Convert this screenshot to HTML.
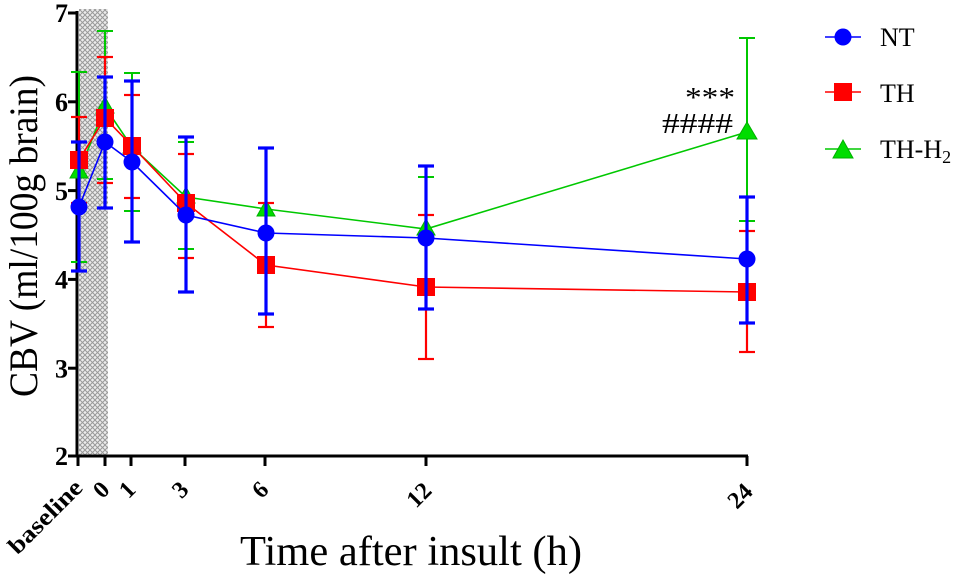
<!DOCTYPE html>
<html><head><meta charset="utf-8"><style>
html,body{margin:0;padding:0;background:#fff;}
svg{display:block;}
text{font-family:"Liberation Serif",serif;}
</style></head><body>
<svg width="968" height="577" viewBox="0 0 968 577" xmlns="http://www.w3.org/2000/svg">
<defs>
<pattern id="hatch" width="5" height="5" patternUnits="userSpaceOnUse">
<rect width="5" height="5" fill="#ececec"/>
<path d="M0,0 L5,5 M5,0 L0,5" stroke="#999" stroke-width="1"/>
</pattern>
</defs>
<!-- hatched region -->
<rect x="79" y="9" width="29" height="446" fill="url(#hatch)"/>

<!-- axes -->
<line x1="77" y1="11" x2="77" y2="457.5" stroke="#000" stroke-width="3"/>
<line x1="75.5" y1="456" x2="748" y2="456" stroke="#000" stroke-width="3"/>
<g stroke="#000" stroke-width="3">
<line x1="68" y1="13" x2="77" y2="13"/>
<line x1="68" y1="101.8" x2="77" y2="101.8"/>
<line x1="68" y1="190.6" x2="77" y2="190.6"/>
<line x1="68" y1="279.4" x2="77" y2="279.4"/>
<line x1="68" y1="368.2" x2="77" y2="368.2"/>
<line x1="68" y1="456" x2="77" y2="456"/>
<line x1="78" y1="456" x2="78" y2="466"/>
<line x1="105" y1="456" x2="105" y2="466"/>
<line x1="131" y1="456" x2="131" y2="466"/>
<line x1="185" y1="456" x2="185" y2="466"/>
<line x1="265" y1="456" x2="265" y2="466"/>
<line x1="426" y1="456" x2="426" y2="466"/>
<line x1="747" y1="456" x2="747" y2="466"/>
</g>
<g font-weight="bold" font-size="26" text-anchor="end" fill="#000">
<text x="68" y="22">7</text>
<text x="68" y="111">6</text>
<text x="68" y="200">5</text>
<text x="68" y="288.5">4</text>
<text x="68" y="377.5">3</text>
<text x="68" y="465">2</text>
</g>
<g font-weight="bold" font-size="24" text-anchor="end" fill="#000">
<text transform="translate(84,489) rotate(-45)" textLength="94" lengthAdjust="spacingAndGlyphs">baseline</text>
<text transform="translate(111,491) rotate(-45)">0</text>
<text transform="translate(137,491) rotate(-45)">1</text>
<text transform="translate(190,491) rotate(-45)">3</text>
<text transform="translate(270,491) rotate(-45)">6</text>
<text transform="translate(433,492) rotate(-45)">12</text>
<text transform="translate(754,493) rotate(-45)">24</text>
</g>
<text x="411" y="565" font-size="42" text-anchor="middle" textLength="342" lengthAdjust="spacingAndGlyphs">Time after insult (h)</text>
<text transform="translate(37,236) rotate(-90)" font-size="40" text-anchor="middle" textLength="322" lengthAdjust="spacingAndGlyphs">CBV (ml/100g brain)</text>

<!-- GREEN TH-H2 -->
<g stroke="#00c800" stroke-width="2" fill="none">
<line x1="79" y1="72" x2="79" y2="262"/><line x1="71" y1="72" x2="87" y2="72"/><line x1="71" y1="262" x2="87" y2="262"/>
<line x1="105" y1="31" x2="105" y2="179"/><line x1="97" y1="31" x2="113" y2="31"/><line x1="97" y1="179" x2="113" y2="179"/>
<line x1="132" y1="73" x2="132" y2="211"/><line x1="124" y1="73" x2="140" y2="73"/><line x1="124" y1="211" x2="140" y2="211"/>
<line x1="186" y1="142" x2="186" y2="249"/><line x1="178" y1="142" x2="194" y2="142"/><line x1="178" y1="249" x2="194" y2="249"/>
<line x1="266" y1="202" x2="266" y2="218"/>
<line x1="426" y1="177" x2="426" y2="228"/><line x1="418" y1="177" x2="434" y2="177"/>
<line x1="747" y1="38" x2="747" y2="221"/><line x1="739" y1="38" x2="755" y2="38"/><line x1="739" y1="221" x2="755" y2="221"/>
<polyline points="79,172 105,107 132,147 186,197 266,209 426,229 747,132" stroke-width="1.6"/>
</g>
<g fill="#00dd00" stroke="#00b000" stroke-width="1">
<polygon points="79,162 88,178 70,178"/>
<polygon points="105,97 114,113 96,113"/>
<polygon points="132,137 141,153 123,153"/>
<polygon points="186,187 195,203 177,203"/>
<polygon points="266,200 275,216 257,216"/>
<polygon points="426,219 435,235 417,235"/>
<polygon points="747,122 757,139 737,139"/>
</g>

<!-- RED TH -->
<g stroke="#ff0000" stroke-width="2.2" fill="none">
<line x1="79" y1="117" x2="79" y2="203"/><line x1="71" y1="117" x2="87" y2="117"/><line x1="71" y1="203" x2="87" y2="203"/>
<line x1="105" y1="57" x2="105" y2="183"/><line x1="97" y1="57" x2="113" y2="57"/><line x1="97" y1="183" x2="113" y2="183"/>
<line x1="132" y1="95" x2="132" y2="198"/><line x1="124" y1="95" x2="140" y2="95"/><line x1="124" y1="198" x2="140" y2="198"/>
<line x1="186" y1="154" x2="186" y2="258"/><line x1="178" y1="154" x2="194" y2="154"/><line x1="178" y1="258" x2="194" y2="258"/>
<line x1="266" y1="203" x2="266" y2="327"/><line x1="258" y1="203" x2="274" y2="203"/><line x1="258" y1="327" x2="274" y2="327"/>
<line x1="426" y1="215" x2="426" y2="359"/><line x1="418" y1="215" x2="434" y2="215"/><line x1="418" y1="359" x2="434" y2="359"/>
<line x1="747" y1="231" x2="747" y2="352"/><line x1="739" y1="231" x2="755" y2="231"/><line x1="739" y1="352" x2="755" y2="352"/>
<polyline points="79,160 105,118 132,146 186,203 266,265 426,287 747,292" stroke-width="1.6"/>
</g>
<g fill="#ff0000">
<rect x="70" y="151" width="18" height="18"/>
<rect x="96" y="109" width="18" height="18"/>
<rect x="123" y="137" width="18" height="18"/>
<rect x="177" y="194" width="18" height="18"/>
<rect x="257" y="256" width="18" height="18"/>
<rect x="417" y="278" width="18" height="18"/>
<rect x="738" y="283" width="18" height="18"/>
</g>

<!-- BLUE NT -->
<g stroke="#0000ff" stroke-width="3.2" fill="none">
<line x1="79" y1="142" x2="79" y2="271"/><line x1="71" y1="142" x2="87" y2="142"/><line x1="71" y1="271" x2="87" y2="271"/>
<line x1="105" y1="77" x2="105" y2="208"/><line x1="97" y1="77" x2="113" y2="77"/><line x1="97" y1="208" x2="113" y2="208"/>
<line x1="132" y1="81" x2="132" y2="242"/><line x1="124" y1="81" x2="140" y2="81"/><line x1="124" y1="242" x2="140" y2="242"/>
<line x1="186" y1="137" x2="186" y2="292"/><line x1="178" y1="137" x2="194" y2="137"/><line x1="178" y1="292" x2="194" y2="292"/>
<line x1="266" y1="148" x2="266" y2="314"/><line x1="258" y1="148" x2="274" y2="148"/><line x1="258" y1="314" x2="274" y2="314"/>
<line x1="426" y1="166" x2="426" y2="309"/><line x1="418" y1="166" x2="434" y2="166"/><line x1="418" y1="309" x2="434" y2="309"/>
<line x1="747" y1="197" x2="747" y2="323"/><line x1="739" y1="197" x2="755" y2="197"/><line x1="739" y1="323" x2="755" y2="323"/>
<polyline points="79,207 105,142 132,162 186,215 266,233 426,238 747,259" stroke-width="1.6"/>
</g>
<g fill="#0000ff">
<circle cx="79" cy="207" r="8.5"/>
<circle cx="105" cy="142" r="8.5"/>
<circle cx="132" cy="162" r="8.5"/>
<circle cx="186" cy="215" r="8.5"/>
<circle cx="266" cy="233" r="8.5"/>
<circle cx="426" cy="238" r="8.5"/>
<circle cx="747" cy="259" r="8.5"/>
</g>

<!-- annotations -->
<text x="685" y="107" font-size="28" textLength="50" lengthAdjust="spacingAndGlyphs">***</text>
<text x="662" y="133" font-size="28" textLength="71" lengthAdjust="spacingAndGlyphs">####</text>

<!-- legend -->
<line x1="825" y1="37" x2="861" y2="37" stroke="#0000ff" stroke-width="1.6"/>
<circle cx="843" cy="37" r="8.5" fill="#0000ff"/>
<text x="880" y="46" font-size="26">NT</text>
<line x1="825" y1="92" x2="861" y2="92" stroke="#ff0000" stroke-width="1.6"/>
<rect x="834" y="83" width="18" height="18" fill="#ff0000"/>
<text x="880" y="102" font-size="26">TH</text>
<line x1="825" y1="149" x2="861" y2="149" stroke="#00c800" stroke-width="1.6"/>
<polygon points="843,140 853,158 833,158" fill="#00dd00" stroke="#00b000" stroke-width="1"/>
<text x="880" y="158" font-size="26">TH-H<tspan font-size="18" dy="5">2</tspan></text>
</svg>
</body></html>
